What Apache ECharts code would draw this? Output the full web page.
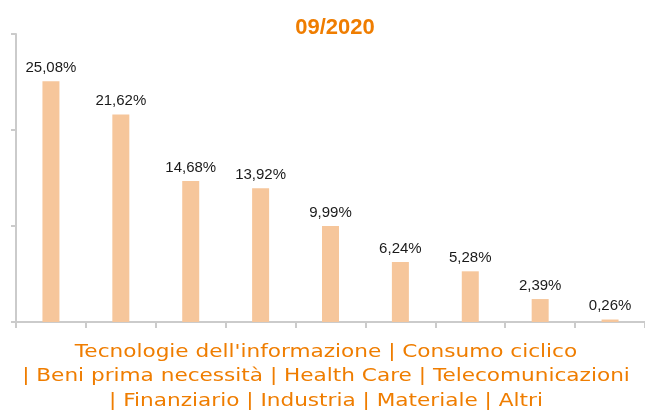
<!DOCTYPE html>
<html>
<head>
<meta charset="utf-8">
<script src="https://cdn.jsdelivr.net/npm/echarts@6/dist/echarts.min.js"></script>
<style>
  html, body { margin: 0; padding: 0; background: #fff; }
  #chart { width: 645px; height: 410px; }
</style>
</head>
<body>
<div id="chart"></div>
<script>
// data
const period = '09/2020';
const categories = [
  'Tecnologie dell\'informazione', 'Consumo ciclico', 'Beni prima necessità',
  'Health Care', 'Telecomunicazioni', 'Finanziario', 'Industria', 'Materiale', 'Altri'
];
const weights = [25.08, 21.62, 14.68, 13.92, 9.99, 6.24, 5.28, 2.39, 0.26];
// where the caption under the axis wraps (index of first category on each new line)
const lineStarts = [2, 5];

const orange = '#ef7d00';
const peach = '#f6c69b';
const axisGrey = '#cbcbcb';

// caption: names joined by " | ", the pipe goes at the start of a wrapped line
let caption = '';
categories.forEach((c, i) => {
  if (i === 0) caption += c;
  else if (lineStarts.indexOf(i) >= 0) caption += '\n| ' + c;
  else caption += ' | ' + c;
});

const chart = echarts.init(document.getElementById('chart'));
chart.setOption({
  animation: false,
  title: {
    text: period,
    left: 330,
    top: 12,
    textAlign: 'center',
    textStyle: { color: orange, fontSize: 22, fontWeight: 'bold', fontFamily: 'Liberation Sans' }
  },
  grid: { left: 16, top: 34, bottom: 88, width: 630 },
  xAxis: {
    type: 'category',
    data: categories,
    axisLine: { lineStyle: { color: axisGrey, width: 2 } },
    axisTick: { show: true, interval: 0, length: 6, lineStyle: { color: axisGrey, width: 2 } },
    axisLabel: { show: false }
  },
  yAxis: {
    type: 'value',
    min: 0,
    max: 30,
    interval: 10,
    axisLine: { show: true, lineStyle: { color: axisGrey, width: 2 } },
    axisTick: { show: true, length: 5, lineStyle: { color: axisGrey, width: 2 } },
    axisLabel: { show: false },
    splitLine: { show: false }
  },
  series: [{
    type: 'bar',
    data: weights,
    barWidth: 17,
    itemStyle: { color: peach },
    label: {
      show: true,
      position: 'top',
      distance: 6,
      color: '#1a1a1a',
      fontSize: 15,
      fontFamily: 'Liberation Sans',
      formatter: p => p.value.toFixed(2).replace('.', ',') + '%'
    }
  }],
  graphic: [{
    type: 'text',
    x: 326,
    y: 340,
    originX: 0,
    originY: 0,
    scaleX: 1.2,
    style: {
      text: caption,
      textAlign: 'center',
      fill: orange,
      fontFamily: 'DejaVu Sans',
      fontSize: 18,
      lineHeight: 24.5
    }
  }]
});
</script>
</body>
</html>
